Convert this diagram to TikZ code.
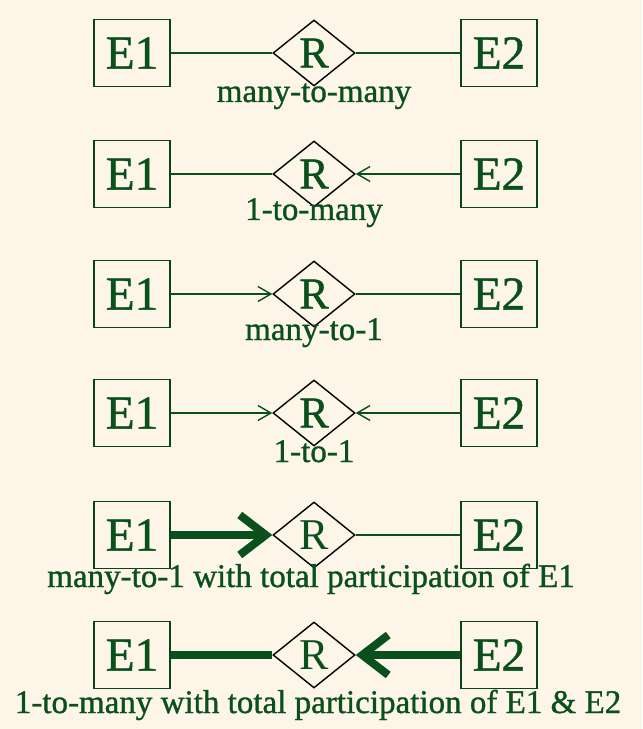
\documentclass[tikz,border=0pt]{standalone}
\usepackage{fontspec}
\setmainfont{Liberation Serif}
\newfontfamily\heavyserif{Liberation Serif}[FakeBold=1]
\usetikzlibrary{shapes,arrows.meta,positioning}

\definecolor{paper}{RGB}{253,245,232}
\definecolor{erdgreen}{RGB}{10,80,28}

\begin{document}
\begin{tikzpicture}[x=0.02cm,y=-0.02cm,
    entity/.style={draw=erdgreen!85!black, line width=0.6pt, minimum width=1.52cm, minimum height=1.34cm, inner sep=0pt, text=erdgreen, font=\heavyserif\fontsize{27}{30}\selectfont},
    relship/.style={diamond, draw=black, line width=0.8pt, minimum width=1.64cm, minimum height=1.32cm, inner sep=0pt, text=erdgreen, font=\heavyserif\fontsize{25}{28}\selectfont},
    lightrel/.style={relship, font=\fontsize{25}{28}\selectfont},
    card/.style={anchor=base, inner sep=0pt, text=erdgreen, font=\heavyserif\fontsize{18.8}{22}\selectfont},
    link/.style={draw=erdgreen, line width=0.8pt},
    oneside/.style={link, -{Straight Barb[length=0.26cm,width=0.3cm]}},
    total/.style={draw=erdgreen, line width=0.16cm},
    totalone/.style={total, -{Straight Barb[length=0.52cm,width=0.8cm]}}
  ]
  % page background, fixes the size too
  \fill[paper] (0,0) rectangle (642,729);

  % many-to-many
  \node[entity] (e1a) at (132,53) {E1};
  \node[relship] (ra) at (314,53) {R};
  \node[entity] (e2a) at (499,53) {E2};
  \draw[link] (e1a.east) -- (ra.west);
  \draw[link] (ra.east) -- (e2a.west);
  \node[card] (la) at (314,102) {many-to-many};

  % 1-to-many
  \node[entity] (e1b) at (132,174) {E1};
  \node[relship] (rb) at (314,174) {R};
  \node[entity] (e2b) at (499,174) {E2};
  \draw[link] (e1b.east) -- (rb.west);
  \draw[oneside] (e2b.west) -- (rb.east);
  \node[card] (lb) at (314,220) {1-to-many};

  % many-to-1
  \node[entity] (e1c) at (132,294) {E1};
  \node[relship] (rc) at (314,294) {R};
  \node[entity] (e2c) at (499,294) {E2};
  \draw[oneside] (e1c.east) -- (rc.west);
  \draw[link] (rc.east) -- (e2c.west);
  \node[card] (lc) at (314,340) {many-to-1};

  % 1-to-1
  \node[entity] (e1d) at (132,413) {E1};
  \node[relship] (rd) at (314,413) {R};
  \node[entity] (e2d) at (499,413) {E2};
  \draw[oneside] (e1d.east) -- (rd.west);
  \draw[oneside] (e2d.west) -- (rd.east);
  \node[card] (ld) at (314,462) {1-to-1};

  % total participation of E1
  \node[entity] (e1e) at (132,535) {E1};
  \node[lightrel] (re) at (314,535) {R};
  \node[entity] (e2e) at (499,535) {E2};
  \draw[totalone] (e1e.east) -- (re.west);
  \draw[link] (re.east) -- (e2e.west);
  \node[card] (le) at (311,587) {many-to-1 with total participation of E1};

  % total participation of both
  \node[entity] (e1f) at (132,655) {E1};
  \node[lightrel] (rf) at (314,655) {R};
  \node[entity] (e2f) at (499,655) {E2};
  \draw[total] (e1f.east) -- (rf.west);
  \draw[totalone] (e2f.west) -- (rf.east);
  \node[card] (lf) at (318,713) {1-to-many with total participation of E1 \& E2};
\end{tikzpicture}
\end{document}
